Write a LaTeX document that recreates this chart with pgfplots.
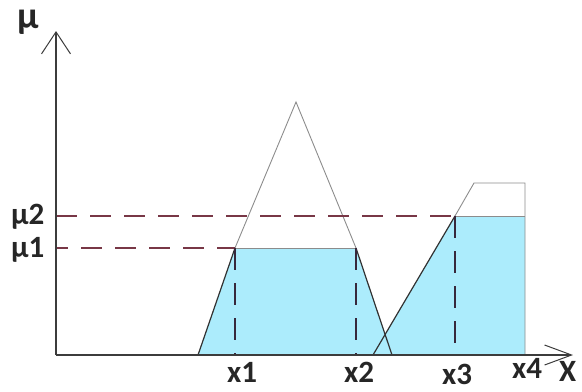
\documentclass[border=0pt]{standalone}
\usepackage{pgfplots}
\pgfplotsset{compat=1.18}
\usetikzlibrary{arrows.meta}
\usepackage{fontspec}
\setmainfont{Carlito}
\definecolor{fillblue}{RGB}{172,236,252}
\definecolor{dashred}{RGB}{120,55,70}
\definecolor{dashdark}{RGB}{55,40,60}
\definecolor{axisgray}{RGB}{60,60,60}
\definecolor{thingray}{RGB}{140,140,140}
\definecolor{darkline}{RGB}{50,50,50}
\tikzset{lbl/.style={font=\bfseries\fontsize{31bp}{31bp}\selectfont, anchor=base west, inner sep=0pt, text=black!85}}
\begin{document}
\begin{tikzpicture}
\begin{axis}[hide axis, scale only axis, x=1bp, y=1bp,
  xmin=0, xmax=582, ymin=-36, ymax=355, clip=false]
% blue areas
\addplot[fill=fillblue, draw=none] coordinates {(198,0) (235,107) (356,107) (392,0)} -- cycle;
\addplot[fill=fillblue, draw=none] coordinates {(373,0) (455,139) (525,139) (525,0)} -- cycle;
% triangle (upper thin gray part)
\addplot[thingray, line width=0.9bp] coordinates {(235,107) (296,253) (356,107)};
\addplot[thingray, line width=0.9bp] coordinates {(235,107) (356,107)};
% triangle lower dark sides
\addplot[darkline, line width=1.2bp] coordinates {(198,0) (235,107)};
\addplot[darkline, line width=1.2bp] coordinates {(356,107) (392,0)};
% trapezoid
\addplot[darkline, line width=1.2bp] coordinates {(373,0) (455,139)};
\addplot[thingray, line width=0.9bp] coordinates {(455,139) (474,172) (525,172) (525,0)};
\addplot[thingray, line width=0.9bp] coordinates {(455,139) (525,139)};
% dashed guide lines
\addplot[dashred, line width=1.3bp, dash pattern=on 21bp off 13bp] coordinates {(56,139) (455,139)};
\addplot[dashred, line width=1.3bp, dash pattern=on 21bp off 13bp, dash phase=9bp] coordinates {(56,107) (235,107)};
\addplot[dashdark, line width=1.3bp, dash pattern=on 22bp off 13bp] coordinates {(235,107) (235,0)};
\addplot[dashdark, line width=1.3bp, dash pattern=on 22bp off 13bp] coordinates {(356,107) (356,0)};
\addplot[dashdark, line width=1.3bp, dash pattern=on 22bp off 13bp] coordinates {(455,139) (455,0)};
% axes
\addplot[axisgray, line width=1.5bp, -{Straight Barb[length=22bp, width=29bp, line width=1bp]}] coordinates {(56,0) (56,324)};
\addplot[axisgray, line width=1.5bp, -{Straight Barb[length=27bp, width=20bp, line width=1bp]}] coordinates {(56,0) (573,0)};
% labels
\node[lbl, font=\bfseries\fontsize{38bp}{38bp}\selectfont] at (axis cs:17,327) {µ};
\node[lbl] at (axis cs:11,131) {µ2};
\node[lbl] at (axis cs:11,98) {µ1};
\node[lbl] at (axis cs:227,-27) {x1};
\node[lbl] at (axis cs:344,-27) {x2};
\node[lbl] at (axis cs:442,-29) {x3};
\node[lbl] at (axis cs:512,-23) {x4};
\node[lbl] at (axis cs:559,-26) {X};
\coordinate (bbSW) at (axis cs:0,-36);
\coordinate (bbNE) at (axis cs:582,355);
\end{axis}
\pgfresetboundingbox
\path[use as bounding box] (bbSW) rectangle (bbNE);
\end{tikzpicture}
\end{document}
